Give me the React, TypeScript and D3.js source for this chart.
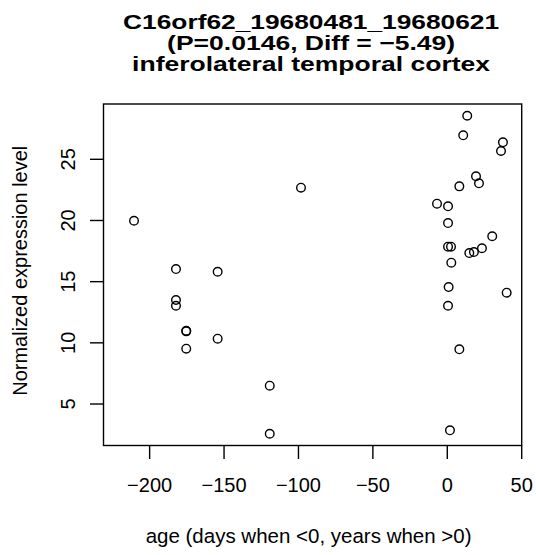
import React from 'react';
import * as d3 from 'd3';

// age (days when <0, years when >0)
const ages = [
  -210.5, -182.3, -154.3, -182.3, -182.3, -175.4, -175.4, -154.3, -175.4, -119.3, -119.3, -98.3,
  13.4, 10.7, 37.4, 36.1, 19.3, 21.3, 8.1, -6.9, 0.5, 0.5, 30.2, 0.5, 2.5, 23.3, 17.9, 14.8,
  2.7, 0.9, 39.9, 0.5, 8.1, 1.8,
];
const expression = [
  19.98, 16.03, 15.81, 13.5, 13.03, 10.99, 10.94, 10.34, 9.52, 6.5, 2.57, 22.68,
  28.56, 26.96, 26.39, 25.68, 23.61, 23.04, 22.79, 21.37, 21.16, 19.79, 18.71, 17.86, 17.86, 17.73, 17.42, 17.34,
  16.55, 14.56, 14.1, 13.03, 9.47, 2.85,
];
const xTicks = [-200, -150, -100, -50, 0, 50];
const yTicks = [5, 10, 15, 20, 25];
const titleLines = [
  'C16orf62_19680481_19680621',
  '(P=0.0146, Diff = \u22125.49)',
  'inferolateral temporal cortex',
];
const titleWidths = [376, 288, 358];

const W = 536;
const H = 555;
const plot = { left: 103.5, right: 521.7, top: 104, bottom: 445.5 };
const font = '"Liberation Sans", Arial, Helvetica, sans-serif';

const fmt = (v: number) => (v < 0 ? '\u2212' + Math.abs(v) : String(v));

export default function App() {
  const x = d3.scaleLinear().domain([-231, 50]).range([plot.left, plot.right]);
  const y = d3.scaleLinear().domain([1.61, 29.52]).range([plot.bottom, plot.top]);
  const cx = (plot.left + plot.right) / 2;
  const cy = (plot.top + plot.bottom) / 2;
  const tick = 13.5;

  return (
    <svg
      width={W}
      height={H}
      viewBox={`0 0 ${W} ${H}`}
      style={{ position: 'absolute', left: 0, top: 0, background: '#fff' }}
      fontFamily={font}
    >
      <rect x={0} y={0} width={W} height={H} fill="#fff" />

      {titleLines.map((t, i) => (
        <text
          key={t}
          x={cx - 1.5}
          y={29 + i * 21}
          textAnchor="middle"
          fontSize={20}
          fontWeight="bold"
          textLength={titleWidths[i]}
          lengthAdjust="spacingAndGlyphs"
          fill="#000"
        >
          {t}
        </text>
      ))}

      <rect
        x={plot.left}
        y={plot.top}
        width={plot.right - plot.left}
        height={plot.bottom - plot.top}
        fill="none"
        stroke="#000"
        strokeWidth={1.4}
      />

      {xTicks.map((v) => (
        <g key={'x' + v}>
          <line x1={x(v)} x2={x(v)} y1={plot.bottom} y2={plot.bottom + tick} stroke="#000" strokeWidth={1.4} />
          <text x={x(v)} y={492} textAnchor="middle" fontSize={20} fill="#000">
            {fmt(v)}
          </text>
        </g>
      ))}

      {yTicks.map((v) => (
        <g key={'y' + v}>
          <line x1={plot.left - tick} x2={plot.left} y1={y(v)} y2={y(v)} stroke="#000" strokeWidth={1.4} />
          <text
            transform={`translate(75,${y(v)}) rotate(-90)`}
            textAnchor="middle"
            fontSize={20}
            fill="#000"
          >
            {v}
          </text>
        </g>
      ))}

      <text x={cx - 4} y={542.5} textAnchor="middle" fontSize={20.5} fill="#000">
        age (days when &lt;0, years when &gt;0)
      </text>
      <text transform={`translate(27,${cy - 4}) rotate(-90)`} textAnchor="middle" fontSize={20} fill="#000">
        Normalized expression level
      </text>

      {ages.map((a, i) => (
        <circle key={i} cx={x(a)} cy={y(expression[i])} r={4.3} fill="none" stroke="#000" strokeWidth={1.4} />
      ))}
    </svg>
  );
}
